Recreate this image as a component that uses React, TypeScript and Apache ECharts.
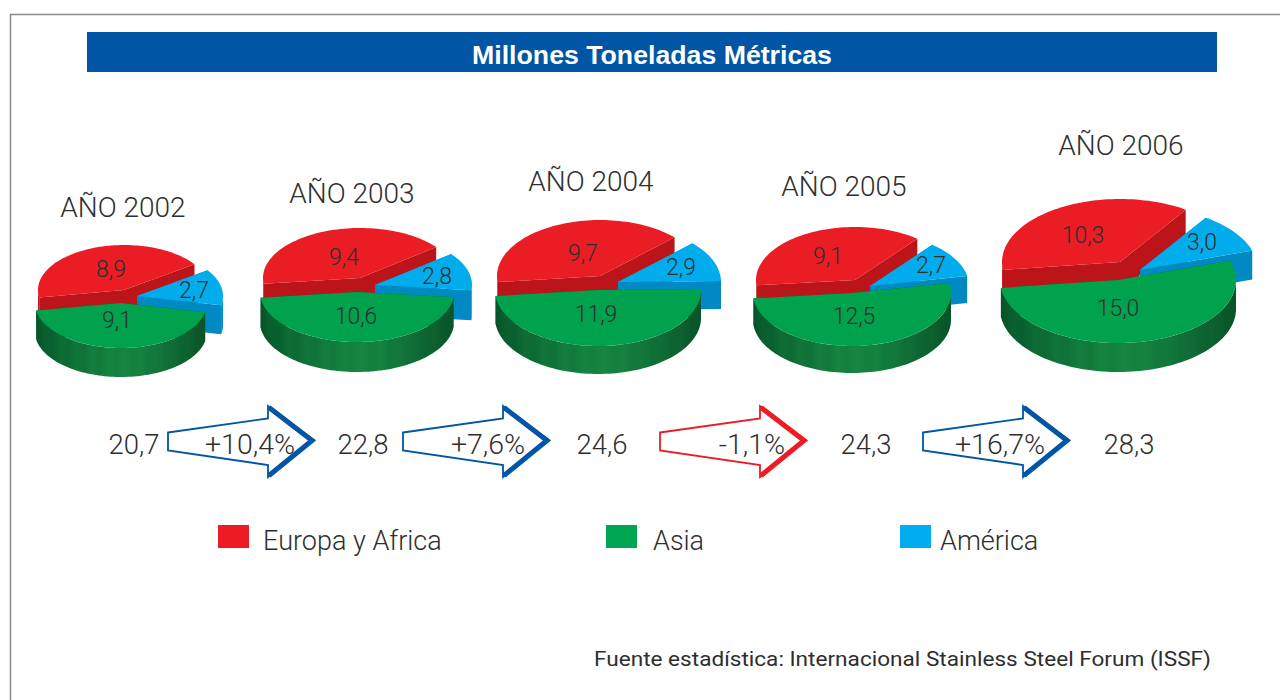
import React, { useEffect, useRef } from "react";
import * as echarts from "echarts";

const years = ["AÑO 2002", "AÑO 2003", "AÑO 2004", "AÑO 2005", "AÑO 2006"];
const asia = [9.1, 10.6, 11.9, 12.5, 15.0];
const europa = [8.9, 9.4, 9.7, 9.1, 10.3];
const america = [2.7, 2.8, 2.9, 2.7, 3.0];
const totals = ["20,7", "22,8", "24,6", "24,3", "28,3"];
const changes = ["+10,4%", "+7,6%", "-1,1%", "+16,7%"];
const legendNames = ["Europa y Africa", "Asia", "América"];
const titleText = "Millones Toneladas Métricas";
const sourceText = "Fuente estadística: Internacional Stainless Steel Forum (ISSF)";

// layout (pixels), kept apart from the values
const pieStart = [12, 6, -1, -11, -18];
const pieRx = [86, 97, 103, 99, 118];
const pieRy = [45, 50, 56, 53, 63];
const pieDepth = [29, 30, 28, 27, 29];
const asiaCentre = [[121, 303], [357, 292], [598, 290], [852, 293], [1118, 280]];
const europaCentre = [[124, 290], [360, 278], [600, 276], [855, 280], [1120, 262]];
const americaCentre = [[137, 296], [375, 285], [618, 282], [870, 286], [1140, 270]];
const asiaLabel = [[117, 320], [356, 316], [596, 314], [854, 316], [1118, 308]];
const europaLabel = [[111, 269], [344, 257], [583, 253], [828, 256], [1083, 235]];
const americaLabel = [[194, 290], [437, 276], [681, 267], [931, 265], [1202, 242]];
const yearPos = [[123, 207], [352, 193], [591, 181], [844, 186], [1121, 145]];
const totalX = [134, 363, 602, 866, 1129];
const arrowX = [168, 403, 660, 923];
const changeX = [250, 488, 752, 1000];
const legendX = [218, 606, 900];
const legendTextX = [263, 653, 940];

const FONT = 'Roboto, "Liberation Sans", Arial, sans-serif';
const BOLD_FONT = '"Liberation Sans", Arial, sans-serif';
const INK = "#2e2e2e";
const BLUE = "#0055a5";
const RED = "#ed1c24";

const greenStreaks = [
  "#07522a", "#0a5e2e", "#086030", "#0f6c35", "#0c6a33", "#11763a", "#0f7238", "#147e3e",
  "#117a3b", "#168441", "#13803e", "#188642", "#13803e", "#168240", "#117a3b", "#13783b",
  "#0f7036", "#106c35", "#0c6431", "#0e622f", "#09582b", "#085428",
];

function streakGradient() {
  return new echarts.graphic.LinearGradient(
    0, 0, 1, 0,
    greenStreaks.map((color, i) => ({ offset: i / (greenStreaks.length - 1), color })),
  );
}

function ellipsePoint(cx: number, cy: number, rx: number, ry: number, deg: number) {
  const a = (deg * Math.PI) / 180;
  return [cx + rx * Math.cos(a), cy + ry * Math.sin(a)];
}

function arcPoints(cx: number, cy: number, rx: number, ry: number, a0: number, a1: number) {
  const pts: number[][] = [];
  const steps = Math.max(2, Math.ceil((a1 - a0) / 2));
  for (let i = 0; i <= steps; i++) pts.push(ellipsePoint(cx, cy, rx, ry, a0 + ((a1 - a0) * i) / steps));
  return pts;
}

function slice(kind: number, centres: number[][], labels: number[][], top: string, wall: string) {
  return (_params: any, api: any) => {
    const i = api.value(0);
    const value = api.value(1);
    const total = asia[i] + europa[i] + america[i];
    const asiaSweep = (asia[i] / total) * 360;
    const europaSweep = (europa[i] / total) * 360;
    const s = pieStart[i];
    const spans = [
      [s, s + asiaSweep],
      [s + asiaSweep, s + asiaSweep + europaSweep],
      [s + asiaSweep + europaSweep, s + 360],
    ];
    const [a0, a1] = spans[kind];
    const [cx, cy] = centres[i];
    const rx = pieRx[i];
    const ry = pieRy[i];
    const d = pieDepth[i];
    const children: any[] = [];
    const p0 = ellipsePoint(cx, cy, rx, ry, a0);
    const p1 = ellipsePoint(cx, cy, rx, ry, a1);
    for (const p of [p0, p1]) {
      children.push({
        type: "polygon",
        shape: { points: [[cx, cy], p, [p[0], p[1] + d], [cx, cy + d]] },
        style: { fill: wall },
      });
    }
    // visible outer wall: the part of the rim that faces the viewer
    for (const shift of [-360, 0, 360]) {
      const from = Math.max(a0 + shift, 0);
      const to = Math.min(a1 + shift, 180);
      if (to > from) {
        const rim = arcPoints(cx, cy, rx, ry, from, to);
        const lower = rim.map((p) => [p[0], p[1] + d]).reverse();
        children.push({
          type: "polygon",
          shape: { points: [...rim, ...lower] },
          style: { fill: kind === 0 && to - from > 60 ? streakGradient() : wall },
        });
      }
    }
    children.push({
      type: "polygon",
      shape: { points: [[cx, cy], ...arcPoints(cx, cy, rx, ry, a0, a1)] },
      style: { fill: top },
    });
    children.push({
      type: "text",
      x: labels[i][0],
      y: labels[i][1],
      z2: 10,
      style: {
        text: value.toFixed(1).replace(".", ","),
        font: `300 23px ${FONT}`,
        fill: INK,
        align: "center",
        verticalAlign: "middle",
        textAlign: "center",
        textVerticalAlign: "middle",
      },
    });
    return { type: "group", children };
  };
}

function txt(text: string, x: number, y: number, size: number, align = "center", weight = 300) {
  return {
    type: "text",
    x,
    y,
    z: 5,
    style: {
      text,
      font: `${weight} ${size}px ${FONT}`,
      fill: INK,
      align,
      verticalAlign: "middle",
      textAlign: align,
      textVerticalAlign: "middle",
    },
  };
}

function arrow(x: number, color: string) {
  return {
    type: "group",
    x,
    y: 0,
    z: 3,
    children: [
      {
        type: "polygon",
        shape: { points: [[0, 432.5], [100, 418.5], [100, 406], [146, 440], [100, 477], [100, 465], [0, 450.5]] },
        style: { fill: "#ffffff", stroke: color, lineWidth: 1.8 },
      },
      {
        type: "polyline",
        shape: { points: [[101, 407.5], [144, 440.5], [101, 475.5]] },
        style: { fill: "none", stroke: color, lineWidth: 5, lineJoin: "miter" },
      },
    ],
  };
}

export default function App() {
  const ref = useRef<HTMLDivElement>(null);
  useEffect(() => {
    const chart = echarts.init(ref.current!, null, { renderer: "svg" });
    const rows = (values: number[]) => values.map((v, i) => [i, v]);
    chart.setOption({
      animation: false,
      backgroundColor: "#ffffff",
      series: [
        {
          type: "custom",
          name: legendNames[0],
          coordinateSystem: "none",
          data: rows(europa),
          renderItem: slice(1, europaCentre, europaLabel, "#ea1d25", "#bb151a"),
        },
        {
          type: "custom",
          name: legendNames[2],
          coordinateSystem: "none",
          data: rows(america),
          renderItem: slice(2, americaCentre, americaLabel, "#00acec", "#0089c2"),
        },
        {
          type: "custom",
          name: legendNames[1],
          coordinateSystem: "none",
          data: rows(asia),
          renderItem: slice(0, asiaCentre, asiaLabel, "#00a24e", "#0a5e2e"),
        },
      ],
      graphic: [
        {
          type: "polyline",
          shape: { points: [[10.5, 700], [10.5, 14.5], [1280, 14.5]] },
          style: { fill: "none", stroke: "#8a8a8a", lineWidth: 1.5 },
        },
        { type: "rect", shape: { x: 87, y: 32, width: 1130, height: 40 }, style: { fill: BLUE } },
        {
          type: "text",
          x: 652,
          y: 55,
          z: 5,
          style: {
            text: titleText,
            font: `bold 26.7px ${BOLD_FONT}`,
            fill: "#ffffff",
            align: "center",
            verticalAlign: "middle",
            textAlign: "center",
            textVerticalAlign: "middle",
          },
        },
        ...years.map((y, i) => txt(y, yearPos[i][0], yearPos[i][1], 28)),
        ...arrowX.map((x, i) => arrow(x, changes[i].startsWith("-") ? RED : BLUE)),
        ...totals.map((t, i) => txt(t, totalX[i], 444, 27.5)),
        ...changes.map((c, i) => txt(c, changeX[i], 444, 28.5)),
        ...legendNames.map((_, i) => ({
          type: "rect",
          shape: { x: legendX[i], y: 525, width: 31, height: 23 },
          style: { fill: ["#ed1c24", "#00a651", "#00aeef"][i] },
        })),
        ...legendNames.map((n, i) => txt(n, legendTextX[i], 541, 27, "left")),
        { ...txt(sourceText, 594, 659, 20, "left", 400), scaleX: 1.13 },
      ],
    });
    return () => chart.dispose();
  }, []);
  return <div ref={ref} style={{ position: "absolute", left: 0, top: 0, width: 1280, height: 700 }} />;
}
